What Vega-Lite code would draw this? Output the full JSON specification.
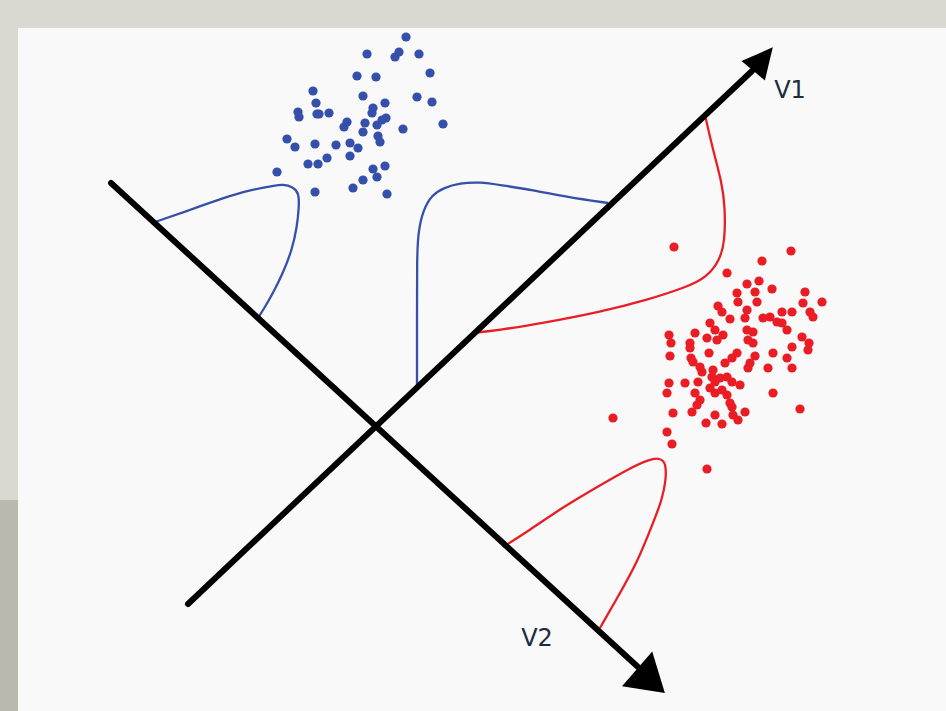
{
  "$schema": "https://vega.github.io/schema/vega-lite/v6.json",
  "autosize": {"type": "fit", "contains": "padding"},
  "width": 946,
  "height": 711,
  "padding": 0,
  "background": "#d9d9d2",
  "config": {"view": {"stroke": null}, "axis": {"disable": true}},
  "datasets": {
    "panels": [
      {"part": "strip", "x": 0, "x2": 18, "y": 500, "y2": 711},
      {"part": "panel", "x": 18, "x2": 946, "y": 28, "y2": 711}
    ],
    "axes": [
      {"axis": "V1", "i": 0, "x": 188, "y": 604},
      {"axis": "V1", "i": 1, "x": 752, "y": 71},
      {"axis": "V2", "i": 0, "x": 111, "y": 183},
      {"axis": "V2", "i": 1, "x": 638, "y": 667}
    ],
    "curves": [
      {"c": "b1", "g": "blue", "i": 0, "x": 155, "y": 222},
      {"c": "b1", "g": "blue", "i": 1, "x": 190, "y": 210},
      {"c": "b1", "g": "blue", "i": 2, "x": 223, "y": 198},
      {"c": "b1", "g": "blue", "i": 3, "x": 250, "y": 190},
      {"c": "b1", "g": "blue", "i": 4, "x": 273, "y": 186},
      {"c": "b1", "g": "blue", "i": 5, "x": 283, "y": 184},
      {"c": "b1", "g": "blue", "i": 6, "x": 293, "y": 187},
      {"c": "b1", "g": "blue", "i": 7, "x": 299, "y": 193},
      {"c": "b1", "g": "blue", "i": 8, "x": 299, "y": 207},
      {"c": "b1", "g": "blue", "i": 9, "x": 297, "y": 227},
      {"c": "b1", "g": "blue", "i": 10, "x": 292, "y": 250},
      {"c": "b1", "g": "blue", "i": 11, "x": 283, "y": 273},
      {"c": "b1", "g": "blue", "i": 12, "x": 273, "y": 293},
      {"c": "b1", "g": "blue", "i": 13, "x": 265, "y": 307},
      {"c": "b1", "g": "blue", "i": 14, "x": 258, "y": 318},
      {"c": "b2", "g": "blue", "i": 0, "x": 417, "y": 388},
      {"c": "b2", "g": "blue", "i": 1, "x": 417, "y": 313},
      {"c": "b2", "g": "blue", "i": 2, "x": 417, "y": 260},
      {"c": "b2", "g": "blue", "i": 3, "x": 418, "y": 233},
      {"c": "b2", "g": "blue", "i": 4, "x": 423, "y": 210},
      {"c": "b2", "g": "blue", "i": 5, "x": 432, "y": 195},
      {"c": "b2", "g": "blue", "i": 6, "x": 443, "y": 188},
      {"c": "b2", "g": "blue", "i": 7, "x": 460, "y": 183},
      {"c": "b2", "g": "blue", "i": 8, "x": 480, "y": 182},
      {"c": "b2", "g": "blue", "i": 9, "x": 500, "y": 185},
      {"c": "b2", "g": "blue", "i": 10, "x": 533, "y": 190},
      {"c": "b2", "g": "blue", "i": 11, "x": 567, "y": 197},
      {"c": "b2", "g": "blue", "i": 12, "x": 608, "y": 203},
      {"c": "r1", "g": "red", "i": 0, "x": 705, "y": 115},
      {"c": "r1", "g": "red", "i": 1, "x": 713, "y": 150},
      {"c": "r1", "g": "red", "i": 2, "x": 722, "y": 183},
      {"c": "r1", "g": "red", "i": 3, "x": 725, "y": 207},
      {"c": "r1", "g": "red", "i": 4, "x": 725, "y": 240},
      {"c": "r1", "g": "red", "i": 5, "x": 720, "y": 260},
      {"c": "r1", "g": "red", "i": 6, "x": 707, "y": 277},
      {"c": "r1", "g": "red", "i": 7, "x": 687, "y": 287},
      {"c": "r1", "g": "red", "i": 8, "x": 647, "y": 300},
      {"c": "r1", "g": "red", "i": 9, "x": 600, "y": 312},
      {"c": "r1", "g": "red", "i": 10, "x": 543, "y": 323},
      {"c": "r1", "g": "red", "i": 11, "x": 500, "y": 330},
      {"c": "r1", "g": "red", "i": 12, "x": 472, "y": 333},
      {"c": "r2", "g": "red", "i": 0, "x": 503, "y": 547},
      {"c": "r2", "g": "red", "i": 1, "x": 530, "y": 530},
      {"c": "r2", "g": "red", "i": 2, "x": 563, "y": 507},
      {"c": "r2", "g": "red", "i": 3, "x": 597, "y": 487},
      {"c": "r2", "g": "red", "i": 4, "x": 630, "y": 468},
      {"c": "r2", "g": "red", "i": 5, "x": 650, "y": 459},
      {"c": "r2", "g": "red", "i": 6, "x": 660, "y": 458},
      {"c": "r2", "g": "red", "i": 7, "x": 666, "y": 463},
      {"c": "r2", "g": "red", "i": 8, "x": 666, "y": 480},
      {"c": "r2", "g": "red", "i": 9, "x": 662, "y": 500},
      {"c": "r2", "g": "red", "i": 10, "x": 653, "y": 523},
      {"c": "r2", "g": "red", "i": 11, "x": 637, "y": 563},
      {"c": "r2", "g": "red", "i": 12, "x": 620, "y": 593},
      {"c": "r2", "g": "red", "i": 13, "x": 600, "y": 628}
    ],
    "dots": [
      {"g": "blue", "x": 406, "y": 37}, {"g": "blue", "x": 367, "y": 54}, {"g": "blue", "x": 395, "y": 57}, {"g": "blue", "x": 399, "y": 52},
      {"g": "blue", "x": 419, "y": 54}, {"g": "blue", "x": 357, "y": 76}, {"g": "blue", "x": 376, "y": 77}, {"g": "blue", "x": 430, "y": 73},
      {"g": "blue", "x": 313, "y": 91}, {"g": "blue", "x": 363, "y": 96}, {"g": "blue", "x": 417, "y": 97}, {"g": "blue", "x": 385, "y": 103},
      {"g": "blue", "x": 432, "y": 102}, {"g": "blue", "x": 316, "y": 103}, {"g": "blue", "x": 298, "y": 112}, {"g": "blue", "x": 299, "y": 117},
      {"g": "blue", "x": 317, "y": 114}, {"g": "blue", "x": 319, "y": 114}, {"g": "blue", "x": 329, "y": 113}, {"g": "blue", "x": 373, "y": 108},
      {"g": "blue", "x": 372, "y": 113}, {"g": "blue", "x": 347, "y": 122}, {"g": "blue", "x": 344, "y": 127}, {"g": "blue", "x": 365, "y": 123},
      {"g": "blue", "x": 363, "y": 132}, {"g": "blue", "x": 382, "y": 120}, {"g": "blue", "x": 386, "y": 118}, {"g": "blue", "x": 377, "y": 125},
      {"g": "blue", "x": 403, "y": 129}, {"g": "blue", "x": 443, "y": 124}, {"g": "blue", "x": 287, "y": 139}, {"g": "blue", "x": 295, "y": 147},
      {"g": "blue", "x": 315, "y": 144}, {"g": "blue", "x": 336, "y": 145}, {"g": "blue", "x": 350, "y": 143}, {"g": "blue", "x": 358, "y": 148},
      {"g": "blue", "x": 350, "y": 156}, {"g": "blue", "x": 378, "y": 136}, {"g": "blue", "x": 380, "y": 142}, {"g": "blue", "x": 327, "y": 158},
      {"g": "blue", "x": 308, "y": 164}, {"g": "blue", "x": 318, "y": 164}, {"g": "blue", "x": 277, "y": 172}, {"g": "blue", "x": 385, "y": 166},
      {"g": "blue", "x": 373, "y": 169}, {"g": "blue", "x": 377, "y": 177}, {"g": "blue", "x": 363, "y": 180}, {"g": "blue", "x": 315, "y": 192},
      {"g": "blue", "x": 353, "y": 188}, {"g": "blue", "x": 387, "y": 194},
      {"g": "red", "x": 674, "y": 247}, {"g": "red", "x": 791, "y": 251}, {"g": "red", "x": 762, "y": 261}, {"g": "red", "x": 727, "y": 273},
      {"g": "red", "x": 747, "y": 284}, {"g": "red", "x": 759, "y": 281}, {"g": "red", "x": 772, "y": 289}, {"g": "red", "x": 755, "y": 292},
      {"g": "red", "x": 805, "y": 292}, {"g": "red", "x": 822, "y": 302}, {"g": "red", "x": 737, "y": 293}, {"g": "red", "x": 738, "y": 302},
      {"g": "red", "x": 757, "y": 302}, {"g": "red", "x": 718, "y": 306}, {"g": "red", "x": 722, "y": 312}, {"g": "red", "x": 730, "y": 319},
      {"g": "red", "x": 747, "y": 310}, {"g": "red", "x": 745, "y": 318}, {"g": "red", "x": 763, "y": 318}, {"g": "red", "x": 770, "y": 317},
      {"g": "red", "x": 777, "y": 322}, {"g": "red", "x": 782, "y": 312}, {"g": "red", "x": 792, "y": 312}, {"g": "red", "x": 803, "y": 303},
      {"g": "red", "x": 810, "y": 312}, {"g": "red", "x": 813, "y": 317}, {"g": "red", "x": 782, "y": 323}, {"g": "red", "x": 787, "y": 330},
      {"g": "red", "x": 710, "y": 323}, {"g": "red", "x": 715, "y": 330}, {"g": "red", "x": 695, "y": 333}, {"g": "red", "x": 669, "y": 335},
      {"g": "red", "x": 671, "y": 343}, {"g": "red", "x": 707, "y": 338}, {"g": "red", "x": 717, "y": 340}, {"g": "red", "x": 723, "y": 335},
      {"g": "red", "x": 747, "y": 330}, {"g": "red", "x": 753, "y": 332}, {"g": "red", "x": 748, "y": 340}, {"g": "red", "x": 753, "y": 343},
      {"g": "red", "x": 690, "y": 343}, {"g": "red", "x": 690, "y": 348}, {"g": "red", "x": 802, "y": 337}, {"g": "red", "x": 809, "y": 343},
      {"g": "red", "x": 808, "y": 350}, {"g": "red", "x": 792, "y": 347}, {"g": "red", "x": 773, "y": 353}, {"g": "red", "x": 670, "y": 356},
      {"g": "red", "x": 691, "y": 358}, {"g": "red", "x": 693, "y": 362}, {"g": "red", "x": 709, "y": 353}, {"g": "red", "x": 737, "y": 353},
      {"g": "red", "x": 732, "y": 358}, {"g": "red", "x": 725, "y": 363}, {"g": "red", "x": 755, "y": 356}, {"g": "red", "x": 750, "y": 363},
      {"g": "red", "x": 748, "y": 368}, {"g": "red", "x": 787, "y": 358}, {"g": "red", "x": 768, "y": 368}, {"g": "red", "x": 792, "y": 368},
      {"g": "red", "x": 700, "y": 367}, {"g": "red", "x": 702, "y": 372}, {"g": "red", "x": 713, "y": 370}, {"g": "red", "x": 712, "y": 377},
      {"g": "red", "x": 715, "y": 382}, {"g": "red", "x": 720, "y": 378}, {"g": "red", "x": 727, "y": 377}, {"g": "red", "x": 732, "y": 382},
      {"g": "red", "x": 740, "y": 385}, {"g": "red", "x": 685, "y": 383}, {"g": "red", "x": 698, "y": 382}, {"g": "red", "x": 669, "y": 383},
      {"g": "red", "x": 667, "y": 393}, {"g": "red", "x": 710, "y": 388}, {"g": "red", "x": 715, "y": 393}, {"g": "red", "x": 722, "y": 390},
      {"g": "red", "x": 727, "y": 395}, {"g": "red", "x": 695, "y": 393}, {"g": "red", "x": 700, "y": 400}, {"g": "red", "x": 697, "y": 405},
      {"g": "red", "x": 692, "y": 412}, {"g": "red", "x": 730, "y": 403}, {"g": "red", "x": 732, "y": 407}, {"g": "red", "x": 773, "y": 393},
      {"g": "red", "x": 673, "y": 413}, {"g": "red", "x": 745, "y": 412}, {"g": "red", "x": 733, "y": 415}, {"g": "red", "x": 738, "y": 420},
      {"g": "red", "x": 715, "y": 415}, {"g": "red", "x": 706, "y": 423}, {"g": "red", "x": 722, "y": 424}, {"g": "red", "x": 800, "y": 409},
      {"g": "red", "x": 613, "y": 418}, {"g": "red", "x": 667, "y": 432}, {"g": "red", "x": 672, "y": 444}, {"g": "red", "x": 707, "y": 469}
    ],
    "labels": [
      {"t": "V1", "x": 790, "y": 91},
      {"t": "V2", "x": 537, "y": 639}
    ]
  },
  "layer": [
    {
      "data": {"name": "panels"},
      "transform": [{"filter": "datum.part === 'strip'"}],
      "mark": {"type": "rect", "color": "#b9b9ad"},
      "encoding": {
        "x": {"field": "x", "type": "quantitative", "scale": {"domain": [0, 946], "nice": false, "zero": false}},
        "x2": {"field": "x2"},
        "y": {"field": "y", "type": "quantitative", "scale": {"domain": [0, 711], "nice": false, "zero": false, "reverse": true}},
        "y2": {"field": "y2"}
      }
    },
    {
      "data": {"name": "panels"},
      "transform": [{"filter": "datum.part === 'panel'"}],
      "mark": {"type": "rect", "color": "#f9f9f9"},
      "encoding": {
        "x": {"field": "x", "type": "quantitative"},
        "x2": {"field": "x2"},
        "y": {"field": "y", "type": "quantitative"},
        "y2": {"field": "y2"}
      }
    },
    {
      "data": {"name": "curves"},
      "mark": {"type": "line", "interpolate": "basis", "strokeWidth": 2.3},
      "encoding": {
        "x": {"field": "x", "type": "quantitative"},
        "y": {"field": "y", "type": "quantitative"},
        "detail": {"field": "c"},
        "order": {"field": "i", "type": "quantitative"},
        "color": {"field": "g", "type": "nominal", "scale": {"domain": ["blue", "red"], "range": ["#3550aa", "#ea1d25"]}, "legend": null}
      }
    },
    {
      "data": {"name": "axes"},
      "mark": {"type": "line", "color": "black", "strokeWidth": 6, "strokeCap": "round"},
      "encoding": {
        "x": {"field": "x", "type": "quantitative"},
        "y": {"field": "y", "type": "quantitative"},
        "detail": {"field": "axis"},
        "order": {"field": "i", "type": "quantitative"}
      }
    },
    {
      "data": {"name": "dots"},
      "mark": {"type": "circle", "size": 85, "opacity": 1},
      "encoding": {
        "x": {"field": "x", "type": "quantitative"},
        "y": {"field": "y", "type": "quantitative"},
        "color": {"field": "g", "type": "nominal", "legend": null}
      }
    },
    {
      "data": {"values": [{"axis": "V1", "x": 763, "y": 59}]},
      "mark": {"type": "point", "shape": "M0,-1L-1,1L1,1Z", "filled": true, "color": "black", "opacity": 1, "size": 930, "angle": 40},
      "encoding": {
        "x": {"field": "x", "type": "quantitative"},
        "y": {"field": "y", "type": "quantitative"}
      }
    },
    {
      "data": {"values": [{"axis": "V2", "x": 651, "y": 681}]},
      "mark": {"type": "point", "shape": "M0,-0.8L-1,0.8L1,0.8Z", "filled": true, "color": "black", "opacity": 1, "size": 2116, "angle": 131},
      "encoding": {
        "x": {"field": "x", "type": "quantitative"},
        "y": {"field": "y", "type": "quantitative"}
      }
    },
    {
      "data": {"name": "labels"},
      "mark": {"type": "text", "font": "DejaVu Sans", "fontSize": 24, "color": "#1c2b3d", "align": "center", "baseline": "middle"},
      "encoding": {
        "x": {"field": "x", "type": "quantitative"},
        "y": {"field": "y", "type": "quantitative"},
        "text": {"field": "t"}
      }
    }
  ]
}
